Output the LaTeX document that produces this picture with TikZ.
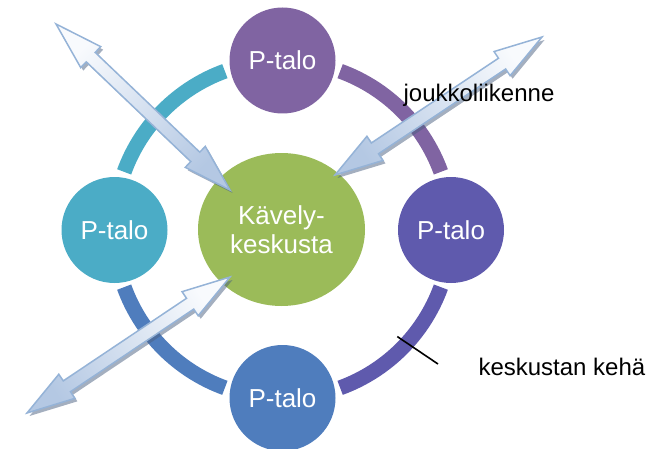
\documentclass[tikz,border=0pt]{standalone}
\usepackage{fontspec}
\setmainfont{Liberation Sans}
\usepackage{tikz}
\usetikzlibrary{calc,shapes.geometric}

\definecolor{talopurple}{HTML}{8064A2}
\definecolor{taloteal}{HTML}{4BACC6}
\definecolor{taloindigo}{HTML}{5F5AAD}
\definecolor{taloblue}{HTML}{4F7DBD}
\definecolor{keskgreen}{HTML}{9BBB59}
\definecolor{nuolilight}{HTML}{F8FAFD}
\definecolor{nuolidark}{HTML}{B4C8E3}
\definecolor{nuoliline}{HTML}{95B3D7}
\definecolor{nuolishadow}{HTML}{4A5F80}

\newcommand{\nuolipath}[2]{(#1) -- ($(#1)!48pt!(#2)!14.5pt!90:(#2)$) -- ($(#1)!48pt!(#2)!6.5pt!90:(#2)$)
    -- ($(#2)!48pt!(#1)!6.5pt!-90:(#1)$) -- ($(#2)!48pt!(#1)!14.5pt!-90:(#1)$) -- (#2)
    -- ($(#2)!48pt!(#1)!14.5pt!90:(#1)$) -- ($(#2)!48pt!(#1)!6.5pt!90:(#1)$)
    -- ($(#1)!48pt!(#2)!6.5pt!-90:(#2)$) -- ($(#1)!48pt!(#2)!14.5pt!-90:(#2)$) -- cycle}
\newcommand{\kaksoisnuoli}[3]{%
    \begin{scope}[transform canvas={shift={(2.5pt,-3pt)}}]
        \fill[nuolishadow, opacity=0.5] \nuolipath{#1}{#2};
    \end{scope}
    \path[draw=nuoliline, line width=1.5pt, top color=nuolilight, bottom color=nuolidark, shading angle=#3] \nuolipath{#1}{#2};
}

\begin{document}
\begin{tikzpicture}[x=1pt, y=1pt,
    talo/.style={circle, minimum size=106pt, inner sep=0pt, text=white, font=\fontsize{26}{29}\selectfont},
    keskus/.style={ellipse, fill=keskgreen, minimum width=167pt, minimum height=153pt, inner sep=0pt,
        text=white, align=center, font=\fontsize{26}{29}\selectfont},
    rengas/.style={line width=15pt},
    selite/.style={font=\fontsize{24}{28}\selectfont}]
    \useasboundingbox (0,0) rectangle (661,448);
    \coordinate (ring) at (282.5,218.5);
    \foreach \alku/\vari in {20/talopurple,110/taloteal,200/taloblue,290/taloindigo}
        \draw[rengas, \vari] ($(ring)+(\alku:168.5pt)$) arc[start angle=\alku, delta angle=50, radius=168.5pt];
    \node[talo, fill=talopurple] (taloN) at (282.5,387.5) {P-talo};
    \node[talo, fill=taloteal] (taloW) at (114.5,218) {P-talo};
    \node[talo, fill=taloindigo] (taloE) at (451,218) {P-talo};
    \node[talo, fill=taloblue] (taloS) at (282.5,50) {P-talo};
    \node[keskus] (keskusta) at (281.5,218.5) {Kävely-\\keskusta};
    \coordinate (kehapiste) at ($(ring)+(-43:157pt)$);
    \coordinate (kehavii) at (438,84);
    \draw[line width=1.6pt] (kehapiste) -- (kehavii);
    \coordinate (nuoli1a) at (56,424);
    \coordinate (nuoli1b) at (230,258);
    \coordinate (nuoli2a) at (542,411);
    \coordinate (nuoli2b) at (335,273);
    \coordinate (nuoli3a) at (230,171);
    \coordinate (nuoli3b) at (27,35);
    \kaksoisnuoli{nuoli1a}{nuoli1b}{46}
    \kaksoisnuoli{nuoli2a}{nuoli2b}{-56}
    \kaksoisnuoli{nuoli3a}{nuoli3b}{-56}
    \node[selite] (joukko) at (479,353) {joukkoliikenne};
    \node[selite, anchor=west] (keha) at (475,81) {keskustan kehä};
\end{tikzpicture}
\end{document}
